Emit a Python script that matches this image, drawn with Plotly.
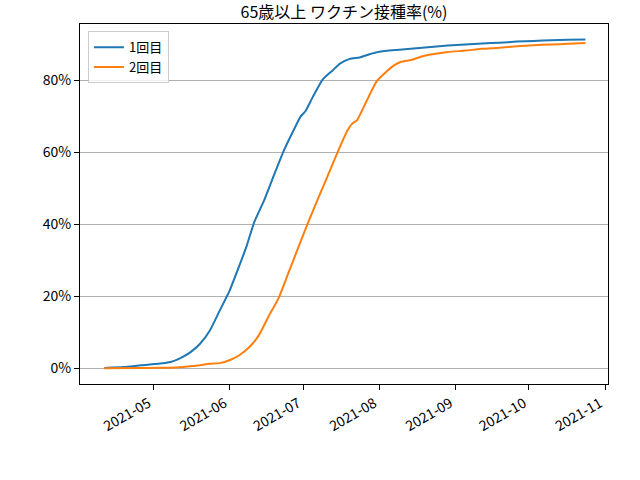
import plotly.graph_objects as go

# 1st dose, share of people aged 65+ (%)
dates1 = ["2021-04-11", "2021-04-19", "2021-04-26", "2021-05-03", "2021-05-08",
          "2021-05-12", "2021-05-16", "2021-05-20", "2021-05-24", "2021-05-28",
          "2021-06-01", "2021-06-05", "2021-06-08", "2021-06-11", "2021-06-15",
          "2021-06-19", "2021-06-23", "2021-06-27", "2021-06-30", "2021-07-02",
          "2021-07-05", "2021-07-09", "2021-07-13", "2021-07-16", "2021-07-20",
          "2021-07-24", "2021-07-28", "2021-08-01", "2021-08-08", "2021-08-15",
          "2021-08-22", "2021-08-29", "2021-09-05", "2021-09-12", "2021-09-19",
          "2021-09-26", "2021-10-03", "2021-10-10", "2021-10-17", "2021-10-24"]
dose1 = [0.05, 0.3, 0.8, 1.2, 1.7,
         2.8, 4.4, 6.8, 10.5, 16.0,
         21.5, 28.5, 34.0, 40.5, 46.5,
         53.5, 60.3, 66.0, 70.0, 71.5,
         75.5, 80.3, 82.8, 84.7, 86.0,
         86.4, 87.3, 88.0, 88.5, 88.9,
         89.3, 89.7, 90.0, 90.3, 90.5,
         90.8, 91.0, 91.2, 91.3, 91.4]

# 2nd dose
dates2 = ["2021-04-11", "2021-04-26", "2021-05-03", "2021-05-10", "2021-05-17",
          "2021-05-24", "2021-05-28", "2021-06-01", "2021-06-05", "2021-06-09",
          "2021-06-13", "2021-06-17", "2021-06-21", "2021-06-25", "2021-06-29",
          "2021-07-03", "2021-07-07", "2021-07-11", "2021-07-15", "2021-07-19",
          "2021-07-21", "2021-07-23", "2021-07-27", "2021-07-31", "2021-08-04",
          "2021-08-07", "2021-08-10", "2021-08-14", "2021-08-18", "2021-08-22",
          "2021-08-29", "2021-09-05", "2021-09-12", "2021-09-19", "2021-09-26",
          "2021-10-03", "2021-10-10", "2021-10-17", "2021-10-24"]
dose2 = [0.0, 0.05, 0.1, 0.2, 0.6,
         1.2, 1.4, 2.2, 3.6, 5.8,
         9.2, 14.5, 19.5, 26.5, 33.5,
         40.5, 47.0, 53.5, 60.0, 66.0,
         68.0, 69.0, 74.5, 79.8, 82.5,
         84.2, 85.2, 85.7, 86.6, 87.2,
         87.9, 88.3, 88.8, 89.1, 89.5,
         89.8, 90.0, 90.2, 90.4]

yticks = [0, 20, 40, 60, 80]
ytick_labels = ["0%", "20%", "40%", "60%", "80%"]
font = "Noto Sans CJK JP"

fig = go.Figure()
fig.add_trace(go.Scatter(x=dates1, y=dose1, mode="lines", name="1回目",
                         line={"color": "#1f77b4", "width": 2,
                               "shape": "spline", "smoothing": 0.5}))
fig.add_trace(go.Scatter(x=dates2, y=dose2, mode="lines", name="2回目",
                         line={"color": "#ff7f0e", "width": 2,
                               "shape": "spline", "smoothing": 0.5}))

axis_common = {"showline": True, "linecolor": "black", "linewidth": 1,
               "mirror": True, "ticks": "outside", "ticklen": 5,
               "tickcolor": "black", "zeroline": False, "automargin": False,
               "tickfont": {"size": 14, "color": "black", "family": font}}

fig.update_xaxes(range=["2021-04-01 02:00", "2021-11-02 05:00"],
                 dtick="M1", tickformat="%Y-%m", tickangle=-30,
                 ticklabelshift=-5, showgrid=False, **axis_common)
fig.update_yaxes(range=[-4.4, 95.7], tickvals=yticks, ticktext=ytick_labels,
                 showgrid=True, gridcolor="#b0b0b0", gridwidth=1,
                 **axis_common)

fig.update_layout(
    width=640, height=480,
    margin={"l": 80, "r": 32, "t": 24, "b": 96},
    plot_bgcolor="white", paper_bgcolor="white",
    font={"family": font, "color": "black"},
    title={"text": "65歳以上 ワクチン接種率(%)", "x": 0.5, "xref": "paper",
           "y": 0.975, "yref": "container", "yanchor": "middle",
           "font": {"size": 16}, "automargin": False},
    legend={"x": 0.015, "y": 0.98, "xanchor": "left", "yanchor": "top",
            "bordercolor": "#cccccc", "borderwidth": 1,
            "bgcolor": "rgba(255,255,255,0.8)", "font": {"size": 13}},
)

# drop the browser's default 8px body margin so the figure sits at (0, 0)
fig.write_html("out.html", config={"displayModeBar": False},
               post_script="document.body.style.margin='0px';")
